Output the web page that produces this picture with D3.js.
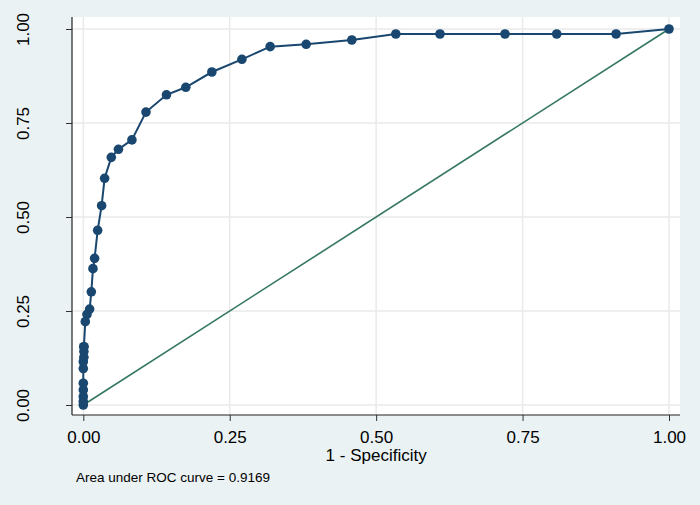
<!DOCTYPE html>
<html>
<head>
<meta charset="utf-8">
<script src="https://cdn.jsdelivr.net/npm/d3@7"></script>
<style>
  html, body { margin: 0; padding: 0; background: #eaf2f3; }
  svg { display: block; }
  text { font-family: "Liberation Sans", Arial, Helvetica, sans-serif; fill: #000; }
</style>
</head>
<body>
<script>
// 1 - Specificity (false positive rate) for each cutpoint
const fpr = [0, 0, 0, 0, 0, 0, 0, 0.001, 0.001, 0.001, 0.001,
  0.0034, 0.0063, 0.0108, 0.0137, 0.0165, 0.0193, 0.0245, 0.0313, 0.0364,
  0.0478, 0.060, 0.083, 0.107, 0.142, 0.175, 0.2195, 0.2708, 0.319,
  0.3805, 0.4585, 0.5336, 0.609, 0.720, 0.8083, 0.9096, 1];
// Sensitivity for each cutpoint
const sens = [0, 0.009, 0.022, 0.040, 0.058, 0.097, 0.115, 0.127, 0.142, 0.155, 0.155,
  0.2215, 0.241, 0.255, 0.301, 0.3626, 0.390, 0.4646, 0.530, 0.603,
  0.6587, 0.680, 0.705, 0.779, 0.825, 0.845, 0.8856, 0.9194, 0.953,
  0.9593, 0.9707, 0.9867, 0.9867, 0.9867, 0.9867, 0.9867, 1];
const tickValues = [0, 0.25, 0.5, 0.75, 1];
const tickLabels = ["0.00", "0.25", "0.50", "0.75", "1.00"];
const xTitle = "1 - Specificity";
const note = "Area under ROC curve = 0.9169";

const W = 700, H = 505;
const svg = d3.select("body").append("svg").attr("width", W).attr("height", H);
svg.append("rect").attr("width", W).attr("height", H).attr("fill", "#eaf2f3");

const plot = { left: 72, right: 680, top: 17, bottom: 415 };
const x = d3.scaleLinear().domain([0, 1]).range([83.3, 669]);
const y = d3.scaleLinear().domain([0, 1]).range([405, 29]);

svg.append("rect")
  .attr("x", plot.left).attr("y", plot.top)
  .attr("width", plot.right - plot.left).attr("height", plot.bottom - plot.top)
  .attr("fill", "#ffffff");

// gridlines
svg.append("g").selectAll("line.h").data(tickValues).join("line")
  .attr("x1", plot.left).attr("x2", plot.right)
  .attr("y1", d => y(d)).attr("y2", d => y(d))
  .attr("stroke", "#eaeaea").attr("stroke-width", 1.5);
svg.append("g").selectAll("line.v").data(tickValues).join("line")
  .attr("y1", plot.top).attr("y2", plot.bottom)
  .attr("x1", d => x(d)).attr("x2", d => x(d))
  .attr("stroke", "#eaeaea").attr("stroke-width", 1.5);

// axes
const yAxis = d3.axisLeft(y).tickValues(tickValues).tickFormat((d, i) => tickLabels[i]).tickSize(6).tickSizeOuter(0);
const gy = svg.append("g").attr("transform", `translate(${plot.left},0)`).call(yAxis);
gy.select(".domain").remove();
gy.selectAll(".tick line").attr("stroke", "#333").attr("stroke-width", 1);
gy.selectAll(".tick text")
  .attr("x", 0).attr("dy", 0)
  .attr("transform", "translate(-43,0) rotate(-90)")
  .attr("text-anchor", "middle")
  .style("font-size", "17px").style("font-family", "Liberation Sans, Arial, sans-serif").attr("fill", "#000");

const xAxis = d3.axisBottom(x).tickValues(tickValues).tickFormat((d, i) => tickLabels[i]).tickSize(6).tickSizeOuter(0);
const gx = svg.append("g").attr("transform", `translate(0,${plot.bottom})`).call(xAxis);
gx.select(".domain").remove();
gx.selectAll(".tick line").attr("stroke", "#333").attr("stroke-width", 1);
gx.selectAll(".tick text").attr("y", 28).attr("dy", 0)
  .style("font-size", "17px").style("font-family", "Liberation Sans, Arial, sans-serif").attr("fill", "#000");

svg.append("line").attr("x1", plot.left).attr("x2", plot.left)
  .attr("y1", plot.top).attr("y2", plot.bottom).attr("stroke", "#222").attr("stroke-width", 1.2);
svg.append("line").attr("x1", plot.left).attr("x2", plot.right)
  .attr("y1", plot.bottom).attr("y2", plot.bottom).attr("stroke", "#222").attr("stroke-width", 1.2);

// reference line
svg.append("line")
  .attr("x1", x(0)).attr("y1", y(0)).attr("x2", x(1)).attr("y2", y(1))
  .attr("stroke", "#35785f").attr("stroke-width", 1.6);

// ROC curve
const pts = fpr.map((f, i) => [f, sens[i]]);
svg.append("path").datum(pts)
  .attr("d", d3.line().x(d => x(d[0])).y(d => y(d[1])))
  .attr("fill", "none").attr("stroke", "#1a476f").attr("stroke-width", 2);
svg.append("g").selectAll("circle").data(pts).join("circle")
  .attr("cx", d => x(d[0])).attr("cy", d => y(d[1])).attr("r", 4.8)
  .attr("fill", "#1a476f");

// titles
svg.append("text").attr("x", x(0.5)).attr("y", 461).attr("text-anchor", "middle")
  .style("font-size", "17px").text(xTitle);
svg.append("text").attr("x", 76).attr("y", 482)
  .style("font-size", "13.5px").text(note);
</script>
</body>
</html>
